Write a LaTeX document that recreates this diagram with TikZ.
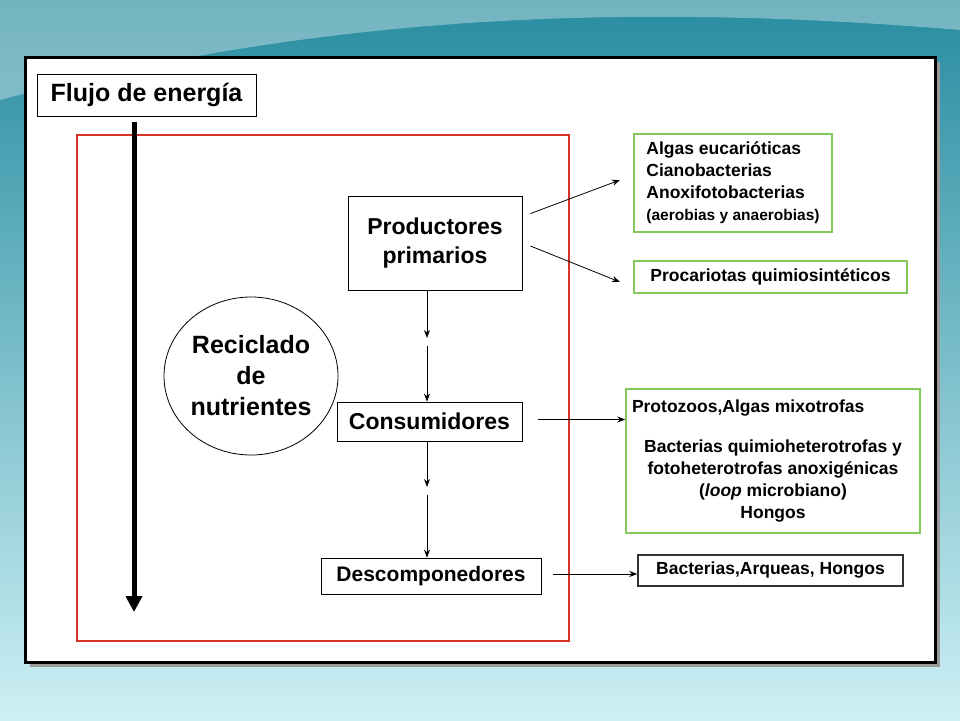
\documentclass[tikz,border=0pt]{standalone}
\usepackage{fontspec}
\setmainfont{Liberation Sans}
\usetikzlibrary{arrows.meta,shapes.geometric}
\definecolor{slidetop}{RGB}{40,140,160}
\definecolor{slidebot}{RGB}{205,240,245}
\definecolor{boxgreen}{RGB}{130,200,90}
\definecolor{boxred}{RGB}{215,50,40}
\begin{document}
\begin{tikzpicture}[x=1pt,y=-1pt,>={Stealth[length=8pt,width=6pt]},
  lbl/.style={font=\bfseries\fontsize{23}{29}\selectfont,align=center},
  stage/.style={draw,thick,lbl,inner sep=0pt},
  group/.style={draw=boxgreen,line width=1.5pt,font=\bfseries\fontsize{17.5}{22}\selectfont,inner sep=0pt},
  link/.style={->,thick}]
% background
\shade[top color=slidetop,bottom color=slidebot] (0,0) rectangle (960,720);
\fill[white,opacity=0.35] (0,100) .. controls (300,20) and (600,0) .. (960,30) -- (960,0) -- (0,0) -- cycle;
\useasboundingbox (0,0) rectangle (960,720);
\fill[black!40] (30,62) rectangle (940,667);
\draw[white,fill=white] (25,57) rectangle (935,662);
\draw[line width=3pt] (25,57) rectangle (935,662);
% energy
\node[draw,thick,minimum width=219pt,minimum height=42pt,font=\bfseries\fontsize{25}{30}\selectfont] (flujo) at (146.5,95) {Flujo de energía};
\draw[boxred,line width=2pt] (77,135) rectangle (569,641);
\coordinate (ftop) at (134,122);
\coordinate (fbot) at (134,612);
\draw[line width=5pt,-{Triangle[length=16pt,width=16pt]}] (ftop) -- (fbot);
\node[draw,thick,ellipse,minimum width=174pt,minimum height=158pt,inner sep=0pt,lbl,font=\bfseries\fontsize{25}{31}\selectfont] (recic) at (251,376) {Reciclado\\de\\nutrientes};
% stages
\node[stage,minimum width=174pt,minimum height=94pt] (prod) at (435,243) {Productores\\primarios};
\node[stage,minimum width=185pt,minimum height=39pt] (cons) at (429.5,421.5) {Consumidores};
\node[stage,minimum width=220pt,minimum height=36pt,font=\bfseries\fontsize{21}{26}\selectfont] (desc) at (431,576) {Descomponedores};
\coordinate (p1) at (427,338);
\coordinate (p2) at (427,346);
\coordinate (c1) at (427,487);
\coordinate (c2) at (427,495);
\draw[link] (prod.south -| p1) -- (p1);
\draw[link] (p2) -- (cons.north -| p2);
\draw[link] (cons.south -| c1) -- (c1);
\draw[link] (c2) -- (desc.north -| c2);
% groups
\node[group,minimum width=198pt,minimum height=98pt,align=left] (algas) at (733,183) {Algas eucarióticas\\Cianobacterias\\Anoxifotobacterias\\{\fontsize{15.5}{19}\selectfont(aerobias y anaerobias)}};
\node[group,minimum width=273pt,minimum height=32pt] (quimio) at (770.5,277) {Procariotas quimiosintéticos};
\node[group,minimum width=294pt,minimum height=144pt,align=center] (hetero) at (773,461) {\makebox[282pt][l]{Protozoos,Algas mixotrofas}\\[18pt]Bacterias quimioheterotrofas y\\fotoheterotrofas anoxigénicas\\(\textit{loop} microbiano)\\Hongos};
\node[group,draw=black!80,minimum width=265pt,minimum height=31pt] (bact) at (770.5,570.5) {Bacterias,Arqueas, Hongos};
\draw[link] (prod.north east) ++(8,18) coordinate (a1) (a1) -- (620,180) coordinate (a2);
\draw[link] (prod.east) ++(8,3) coordinate (b1) (b1) -- (620,282) coordinate (b2);
\draw[link] (cons.east) ++(16,-2) coordinate (d1) (d1) -- (hetero.west |- d1);
\draw[link] (desc.east) ++(12,-2) coordinate (e1) (e1) -- (bact.west |- e1);
\end{tikzpicture}
\end{document}
